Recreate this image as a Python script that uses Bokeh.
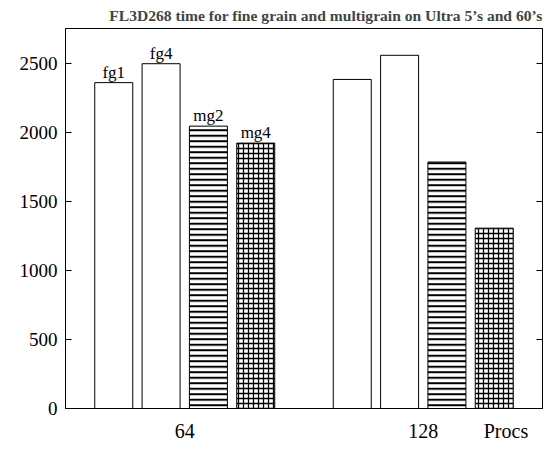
from bokeh.plotting import figure
from bokeh.models import FixedTicker, LinearAxis, Range1d
from bokeh.core.properties import value
from bokeh.embed import file_html
from bokeh.resources import INLINE

procs = [64, 128]
proc_labels = ["64", "128"]
axis_name = "Procs"
series = ["fg1", "fg4", "mg2", "mg4"]
fg1 = [2360, 2383]
fg4 = [2497, 2558]
mg2 = [2045, 1785]
mg4 = [1922, 1306]
y_ticks = [0, 500, 1000, 1500, 2000, 2500]

values = [fg1, fg4, mg2, mg4]
pitch = 12.7
width = 10.2
offsets = [(i - 1.5) * pitch for i in range(len(series))]
hatches = [None, None, "horizontal_line", "cross"]
SERIF = "Liberation Serif"

p = figure(width=551, height=449, output_backend="svg", toolbar_location=None,
           x_range=Range1d(32, 160), y_range=Range1d(0, 2752),
           min_border_left=65, min_border_right=9, min_border_top=28, min_border_bottom=41)
p.xgrid.visible = False
p.ygrid.visible = False
p.background_fill_color = "white"
p.outline_line_color = "black"
p.outline_line_width = 1

p.title.text = "FL3D268 time for fine grain and multigrain on Ultra 5\u2019s and 60\u2019s"
p.title.align = "right"
p.title.text_font = SERIF
p.title.text_font_size = "15.6px"
p.title.text_font_style = "bold"
p.title.standoff = 9

for i, name in enumerate(series):
    xs = [pr + offsets[i] for pr in procs]
    kw = {}
    if hatches[i] == "horizontal_line":
        kw = dict(hatch_pattern="horizontal_line", hatch_color="black",
                  hatch_scale=5.5, hatch_weight=2)
    elif hatches[i] == "cross":
        kw = dict(hatch_pattern="cross", hatch_color="black",
                  hatch_scale=5, hatch_weight=1.3)
    p.vbar(x=xs, top=values[i], width=width, bottom=0, fill_color="white",
           line_color="black", line_width=1, **kw)

# labels above the first group's bars
p.text(x=[procs[0] + o for o in offsets], y=[v[0] for v in values], text=series,
       text_font=value(SERIF), text_font_size="17px", text_align="center",
       text_baseline="bottom", y_offset=-1, text_color="black")

# x axis
xt = procs + [150.2]
p.xaxis.ticker = FixedTicker(ticks=xt)
p.xaxis.major_label_overrides = {**{pr: lab for pr, lab in zip(procs, proc_labels)}, 150.2: axis_name}
p.xaxis.major_tick_line_color = None
p.xaxis.minor_tick_line_color = None
p.xaxis.axis_line_color = "black"
p.xaxis.major_label_text_font = SERIF
p.xaxis.major_label_text_font_size = "20px"
p.xaxis.major_label_text_color = "black"
p.xaxis.major_label_standoff = 5

# y axis
p.yaxis.ticker = FixedTicker(ticks=y_ticks)
p.yaxis.major_tick_in = 6
p.yaxis.major_tick_out = 0
p.yaxis.minor_tick_line_color = None
p.yaxis.axis_line_color = "black"
p.yaxis.major_label_text_font = SERIF
p.yaxis.major_label_text_font_size = "19px"
p.yaxis.major_label_text_color = "black"
p.yaxis.major_label_standoff = 8

right = LinearAxis(ticker=FixedTicker(ticks=y_ticks),
                   major_label_overrides={t: "" for t in y_ticks},
                   major_tick_in=6, major_tick_out=0, minor_tick_line_color=None,
                   axis_line_color="black", major_label_standoff=0)
p.add_layout(right, "right")

open("out.html", "w").write(file_html(p, INLINE))
